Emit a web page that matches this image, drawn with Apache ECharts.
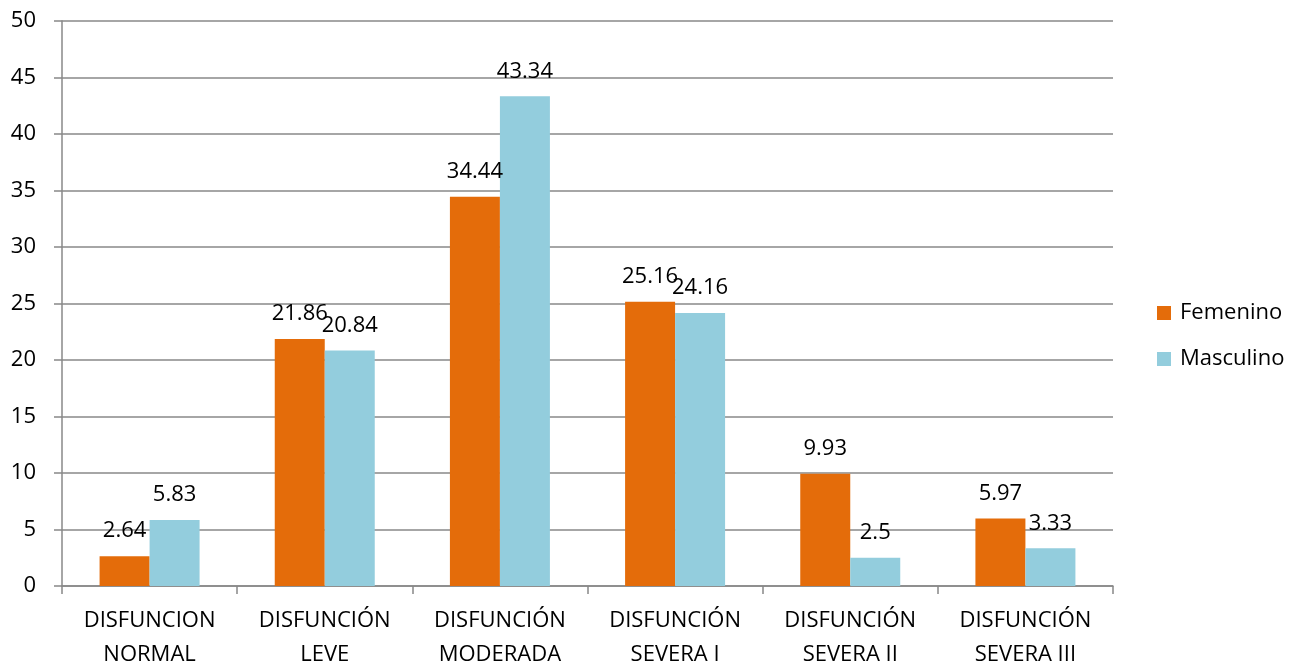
<!DOCTYPE html>
<html>
<head>
<meta charset="utf-8">
<script src="https://cdn.jsdelivr.net/npm/echarts@6/dist/echarts.min.js"></script>
<style>
  html, body { margin: 0; padding: 0; background: #ffffff; }
  #chart { width: 1302px; height: 664px; }
</style>
</head>
<body>
<div id="chart"></div>
<script>
// Categories and values per sex
const categories = [
  'DISFUNCION\nNORMAL',
  'DISFUNCIÓN\nLEVE',
  'DISFUNCIÓN\nMODERADA',
  'DISFUNCIÓN\nSEVERA I',
  'DISFUNCIÓN\nSEVERA II',
  'DISFUNCIÓN\nSEVERA III'
];
const femenino = [2.64, 21.86, 34.44, 25.16, 9.93, 5.97];
const masculino = [5.83, 20.84, 43.34, 24.16, 2.5, 3.33];
const seriesNames = ['Femenino', 'Masculino'];

const FONT = '"Open Sans", "Noto Sans", sans-serif';
const AXIS_GRAY = '#888888';

const chart = echarts.init(document.getElementById('chart'), null, { renderer: 'canvas' });

const labelStyle = {
  show: true,
  position: 'top',
  distance: 14,
  color: '#000000',
  fontFamily: FONT,
  fontSize: 22
};

chart.setOption({
  animation: false,
  backgroundColor: '#ffffff',
  textStyle: { fontFamily: FONT },
  grid: {
    left: 62, right: 189, top: 21, bottom: 78,
    containLabel: false,
    outerBoundsMode: 'none'
  },
  legend: {
    orient: 'vertical',
    left: 1157,
    top: 302,
    padding: 0,
    itemWidth: 14,
    itemHeight: 14,
    itemGap: 24,
    icon: 'rect',
    textStyle: { fontFamily: FONT, fontSize: 22, color: '#000000', padding: [0, 0, 0, 4] },
    data: seriesNames
  },
  xAxis: {
    type: 'category',
    data: categories,
    axisLine: { show: true, lineStyle: { color: AXIS_GRAY, width: 1.5 } },
    axisTick: { show: true, length: 8, lineStyle: { color: AXIS_GRAY, width: 1.5 } },
    axisLabel: {
      interval: 0,
      margin: 18,
      color: '#000000',
      fontFamily: FONT,
      fontSize: 22,
      lineHeight: 34
    }
  },
  yAxis: {
    type: 'value',
    min: 0,
    max: 50,
    interval: 5,
    axisLine: { show: true, lineStyle: { color: AXIS_GRAY, width: 1.5 } },
    axisTick: { show: true, length: 8, lineStyle: { color: AXIS_GRAY, width: 1.5 } },
    axisLabel: {
      margin: 26,
      color: '#000000',
      fontFamily: FONT,
      fontSize: 22
    },
    splitLine: { show: true, lineStyle: { color: AXIS_GRAY, width: 1.5 } }
  },
  series: [
    {
      name: seriesNames[0],
      type: 'bar',
      data: femenino,
      barWidth: 50,
      barGap: '0%',
      itemStyle: { color: '#E46C0A' },
      label: labelStyle
    },
    {
      name: seriesNames[1],
      type: 'bar',
      data: masculino,
      barWidth: 50,
      barGap: '0%',
      itemStyle: { color: '#93CDDD' },
      label: labelStyle
    }
  ]
});
</script>
</body>
</html>
